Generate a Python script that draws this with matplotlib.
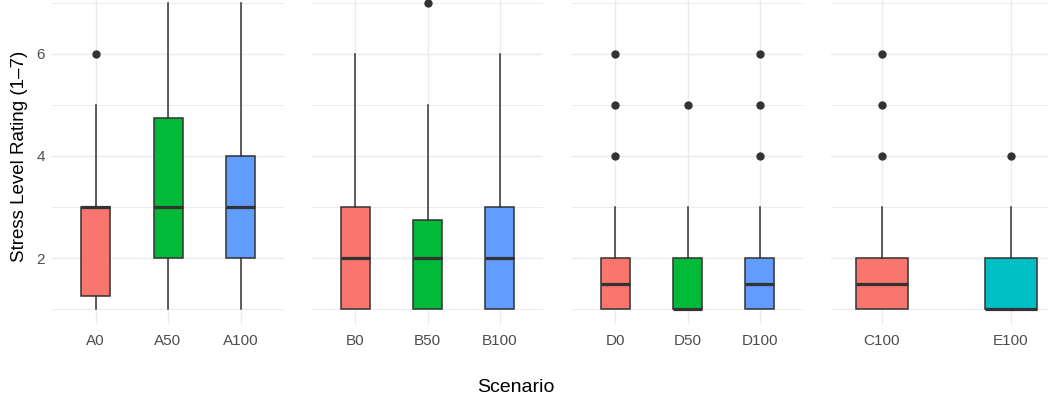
import matplotlib
matplotlib.use("Agg")
import matplotlib.pyplot as plt

plt.rcParams['font.family'] = ['Liberation Sans', 'DejaVu Sans']

# ---- data ----
panels = [
    ["A0", "A50", "A100"],
    ["B0", "B50", "B100"],
    ["D0", "D50", "D100"],
    ["C100", "E100"],
]
whislo = {"A0": 1, "A50": 1, "A100": 1, "B0": 1, "B50": 1, "B100": 1,
          "D0": 1, "D50": 1, "D100": 1, "C100": 1, "E100": 1}
q1 = {"A0": 1.25, "A50": 2, "A100": 2, "B0": 1, "B50": 1, "B100": 1,
      "D0": 1, "D50": 1, "D100": 1, "C100": 1, "E100": 1}
med = {"A0": 3, "A50": 3, "A100": 3, "B0": 2, "B50": 2, "B100": 2,
       "D0": 1.5, "D50": 1, "D100": 1.5, "C100": 1.5, "E100": 1}
q3 = {"A0": 3, "A50": 4.75, "A100": 4, "B0": 3, "B50": 2.75, "B100": 3,
      "D0": 2, "D50": 2, "D100": 2, "C100": 2, "E100": 2}
whishi = {"A0": 5, "A50": 7, "A100": 7, "B0": 6, "B50": 5, "B100": 6,
          "D0": 3, "D50": 3, "D100": 3, "C100": 3, "E100": 3}
fliers = {"A0": [6], "A50": [], "A100": [], "B0": [], "B50": [7], "B100": [],
          "D0": [4, 5, 6], "D50": [5], "D100": [4, 5, 6], "C100": [4, 5, 6], "E100": [4]}
fill_colors = {"A0": "#F8766D", "A50": "#00BA38", "A100": "#619CFF",
               "B0": "#F8766D", "B50": "#00BA38", "B100": "#619CFF",
               "D0": "#F8766D", "D50": "#00BA38", "D100": "#619CFF",
               "C100": "#F8766D", "E100": "#00BFC4"}
y_ticks = [2, 4, 6]
y_minor = [1, 3, 5, 7]
x_title = "Scenario"
y_title = "Stress Level Rating (1\u20137)"

# ---- layout (pixels in the 1048x396 image) ----
W, H = 1048, 396
fig = plt.figure(figsize=(W / 100, H / 100), dpi=100)
panel_px = [(52, 284), (312, 543), (572, 803), (831, 1062)]
y_top_px, y_bot_px = -12.3, 324.3
pad_frac = [0.6, 0.6, 0.6, 0.395]

edge = "#333333"
grid = "#EBEBEB"
for i, (cats, (x0, x1)) in enumerate(zip(panels, panel_px)):
    ax = fig.add_axes([x0 / W, (H - y_bot_px) / H, (x1 - x0) / W, (y_bot_px - y_top_px) / H])
    stats = []
    for c in cats:
        stats.append(dict(label=c, whislo=whislo[c], q1=q1[c], med=med[c],
                          q3=q3[c], whishi=whishi[c], fliers=fliers[c]))
    pos = list(range(1, len(cats) + 1))
    bp = ax.bxp(stats, positions=pos, widths=0.4, patch_artist=True, showcaps=False,
                boxprops=dict(edgecolor=edge, linewidth=1.1),
                medianprops=dict(color=edge, linewidth=2.3, solid_capstyle='butt'),
                whiskerprops=dict(color=edge, linewidth=1.1),
                flierprops=dict(marker='o', markerfacecolor=edge, markeredgecolor=edge,
                                markersize=5, linestyle='none'))
    for patch, c in zip(bp['boxes'], cats):
        patch.set_facecolor(fill_colors[c])
        patch.set_zorder(3)
    for k in ('medians', 'whiskers', 'fliers'):
        for a in bp[k]:
            a.set_zorder(4)
    ax.set_xlim(1 - pad_frac[i], len(cats) + pad_frac[i])
    ax.set_ylim(0.7, 7.3)
    ax.set_yticks(y_ticks)
    ax.set_yticks(y_minor, minor=True)
    ax.set_xticks(pos)
    ax.set_xticklabels(cats)
    ax.grid(True, which='major', axis='both', color=grid, linewidth=1.0, zorder=0)
    ax.grid(True, which='minor', axis='y', color=grid, linewidth=0.7, zorder=0)
    ax.set_axisbelow(True)
    for s in ax.spines.values():
        s.set_visible(False)
    ax.tick_params(axis='both', which='both', length=0, labelsize=11, labelcolor="#4D4D4D")
    ax.tick_params(axis='x', pad=7.2)
    ax.tick_params(axis='y', pad=5)
    if i > 0:
        ax.tick_params(axis='y', labelleft=False)

fig.text(516 / W, 1 - 387 / H, x_title, ha='center', va='center', fontsize=14, color='black')
fig.text(20 / W, 1 - 156 / H, y_title, ha='center', va='center', rotation=90,
         fontsize=13.5, color='black')

fig.savefig("out.png", dpi=100, facecolor='white')
